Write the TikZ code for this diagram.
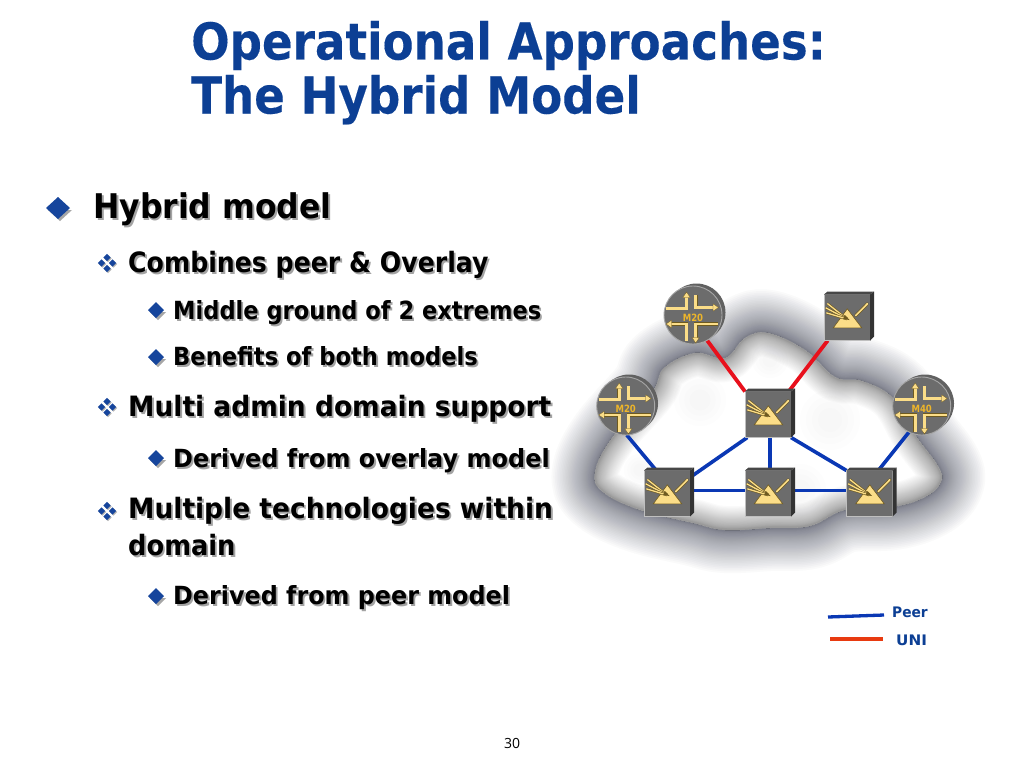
\documentclass[tikz,border=0pt]{standalone}
\usepackage{fontspec}
\setmainfont{DejaVu Sans}
\newfontfamily\bodybold{DejaVu Sans Bold}
\newfontfamily\titlebold[FakeStretch=0.89,FakeBold=0.2]{DejaVu Sans Bold}
\newfontfamily\pageno{Open Sans}
\usetikzlibrary{calc}
\definecolor{titleblue}{HTML}{0C3F94}
\definecolor{bulletblue}{HTML}{16459C}
\definecolor{peerblue}{HTML}{0A38B4}
\definecolor{unired}{HTML}{E8101C}
\definecolor{legendred}{HTML}{E83A10}
\definecolor{boxgray}{HTML}{6C6C6C}
\definecolor{gold}{HTML}{FBDD88}
\definecolor{golddark}{HTML}{6E5A20}
\definecolor{goldtext}{HTML}{EDB52A}
\definecolor{shadowcol}{HTML}{3E4254}
\pgfdeclarelayer{cloudlayer}
\pgfdeclarelayer{connlayer}
\pgfsetlayers{cloudlayer,connlayer,main}
\def\cloudshape{plot[smooth cycle,tension=.65] coordinates {(595,472) (612,438) (652,392) (664,368) (695,353) (725,358) (745,338) (768,333) (805,350) (835,377) (862,381) (893,398) (916,436) (938,466) (941,482) (925,497) (893,507) (845,510) (810,526) (770,528) (725,530) (693,523) (640,510) (603,492)}}
\newcommand{\shtext}[2]{\scalebox{#1}[1]{\rlap{\kern 2pt\raisebox{-2pt}{\textcolor{black!36}{#2}}}#2}}
\newcommand{\bigdiamond}[4]{%
  \fill[black!35] (#1+2,#2+2) -- +(#3,0) -- +(0,#4) -- +(-#3,0) -- +(0,-#4) -- cycle;
  \fill[bulletblue] (#1,#2) ++(#3,0) -- ++(-#3,#4) -- ++(-#3,-#4) -- ++(#3,-#4) -- cycle;}
\newcommand{\fourdiamond}[2]{%
  \foreach \dx/\dy in {0/-5.5,0/5.5,-5.5/0,5.5/0}{%
    \fill[black!30] ($(#1,#2)+(\dx+1,\dy+1)$) ++(3.6,0) -- ++(-3.6,3.6) -- ++(-3.6,-3.6) -- ++(3.6,-3.6) -- cycle;
    \fill[bulletblue] ($(#1,#2)+(\dx,\dy)$) ++(3.6,0) -- ++(-3.6,3.6) -- ++(-3.6,-3.6) -- ++(3.6,-3.6) -- cycle;}}
\newcommand{\swdeco}[1]{%
  \begin{scope}[shift={(#1.north west)}]
    \fill[black!72] (0,0) -- (3.5,-3) -- (50,-3) -- (46,0) -- cycle;
    \fill[black!80] (46,0) -- (50,-3) -- (50,42) -- (46,46) -- cycle;
    \fill[gold,draw=golddark,line width=.6pt] (23.3,14.3) -- (37.7,33.3) -- (9.3,33.3) -- cycle;
    \draw[golddark,line width=3pt,line cap=round] (31.7,21) -- (43.3,9.3);
    \draw[gold,line width=1.6pt,line cap=round] (31.7,21) -- (43.3,9.3);
    \foreach \a/\b in {3.3/9,1.7/13.3,2.3/18.3}{%
      \draw[golddark,line width=2.5pt] (\a,\b) -- (23,24.5);
      \draw[gold,line width=1.3pt] (\a,\b) -- (23,24.5);}
    \fill[golddark] (25.5,25.5) -- (19,24.5) -- (21,20.5) -- cycle;
  \end{scope}}
\newcommand{\rtpath}[1]{%
  \begin{scope}[shift={(#1.center)}]
    \foreach \c/\w in {golddark/3.6pt,gold/2.7pt}{%
      \draw[\c,line width=\w,line join=miter] (-27,-6.5) -- (-6.5,-6.5) -- (-6.5,-18);
      \draw[\c,line width=\w] (2.7,-20) -- (2.7,-7.5) -- (21,-7.5);
      \draw[\c,line width=\w] (-23,9) -- (-6.5,9) -- (-6.5,26);
      \draw[\c,line width=\w] (25,9) -- (2.7,9) -- (2.7,24);}
    \fill[gold,draw=golddark,line width=.3pt] (-6.5,-23) -- (-2.8,-17.5) -- (-10.2,-17.5) -- cycle;
    \fill[gold,draw=golddark,line width=.3pt] (25.5,-7.5) -- (20,-11.2) -- (20,-3.8) -- cycle;
    \fill[gold,draw=golddark,line width=.3pt] (-27,9) -- (-21.5,5.3) -- (-21.5,12.7) -- cycle;
    \fill[gold,draw=golddark,line width=.3pt] (2.7,28) -- (-1,22.5) -- (6.4,22.5) -- cycle;
  \end{scope}}
\tikzset{
  x=1pt,y=-1pt,
  swbox/.style={rectangle,fill=boxgray,draw=black!25,line width=.5pt,minimum size=46pt,inner sep=0pt,outer sep=0pt},
  rtbox/.style={circle,fill=boxgray,draw=black!35,line width=.9pt,minimum size=58pt,inner sep=0pt,outer sep=0pt},
  rtlabel/.style={inner sep=0pt,text=goldtext,font=\bodybold\fontsize{10}{11}\selectfont},
  peerline/.style={peerblue,line width=3.6pt},
  uniline/.style={unired,line width=3.8pt},
  title/.style={anchor=base west,inner sep=0pt,text=titleblue,font=\titlebold\fontsize{50.8}{54}\selectfont},
  lone/.style={anchor=base west,inner sep=0pt,font=\bodybold\fontsize{34}{37}\selectfont},
  ltwo/.style={anchor=base west,inner sep=0pt,font=\bodybold\fontsize{28}{31}\selectfont},
  lthree/.style={anchor=base west,inner sep=0pt,font=\bodybold\fontsize{25}{28}\selectfont},
  legendlabel/.style={anchor=base west,inner sep=0pt,text=titleblue,font=\bodybold\fontsize{14.5}{16}\selectfont},
}
\begin{document}
\begin{tikzpicture}
\useasboundingbox (0,0) rectangle (1024,768);

% title
\node[title] (t1) at (191,59.5) {Operational Approaches:};
\node[title] (t2) at (191,113.5) {The Hybrid Model};

% bullets
\bigdiamond{58}{208}{12}{11}
\bigdiamond{156}{310}{8}{8}
\bigdiamond{156}{357}{8}{8}
\bigdiamond{156}{458}{8}{8}
\bigdiamond{156}{596}{8}{8}
\fourdiamond{107}{263}
\fourdiamond{107}{407}
\fourdiamond{107}{511}

% text
\node[lone] (a1) at (93,218) {\shtext{.926}{Hybrid model}};
\node[ltwo] (b1) at (128,272) {\shtext{.90}{Combines peer \& Overlay}};
\node[lthree] (c1) at (173,319) {\shtext{.902}{Middle ground of 2 extremes}};
\node[lthree] (c2) at (173,365) {\shtext{.905}{Benefits of both models}};
\node[ltwo] (b2) at (128,416) {\shtext{.946}{Multi admin domain support}};
\node[lthree] (c3) at (173,467) {\shtext{.959}{Derived from overlay model}};
\node[ltwo] (b3) at (128,518) {\shtext{.946}{Multiple technologies within}};
\node[ltwo] (b4) at (128,555) {\shtext{.918}{domain}};
\node[lthree] (c4) at (173,604) {\shtext{.954}{Derived from peer model}};

% cloud
\begin{pgfonlayer}{cloudlayer}
  \fill[white] (0,0) rectangle (1024,768);
  \foreach \k in {40,39,...,1}{%
    \pgfmathsetmacro{\w}{2+84*(\k/40)^1.7}
    \draw[shadowcol,line width=\w pt,line join=round,opacity=.022] \cloudshape;}
  \begin{scope}
    \clip \cloudshape;
    \fill[white] (560,300) rectangle (980,560);
    \foreach \k in {30,29,...,1}{%
      \pgfmathsetmacro{\w}{2+46*(\k/30)^1.6}
      \draw[black!70,line width=\w pt,line join=round,opacity=.022] \cloudshape;}
    \foreach \cx/\cy/\r in {700/400/26,830/420/30,640/470/16,800/490/26,770/360/18}{%
      \foreach \k in {1,.8,.6,.4}{%
        \fill[blue!25!black!40,opacity=.018] (\cx,\cy) circle[radius=\k*\r];}}
  \end{scope}
\end{pgfonlayer}

% routers, back discs first
\fill[black!62] (696.5,312.5) circle[radius=29];
\fill[black!62] (629,403.5) circle[radius=29];
\fill[black!62] (925,403.5) circle[radius=29];
\node[rtbox] (rt) at (693,315) {};
\node[rtbox] (rl) at (625.7,406) {};
\node[rtbox] (rr) at (921.7,406) {};
\rtpath{rt}
\rtpath{rl}
\rtpath{rr}
\node[rtlabel] (rtt) at ($(rt.center)+(0,2.5)$) {\scalebox{.85}[1]{M20}};
\node[rtlabel] (rlt) at ($(rl.center)+(0,2.5)$) {\scalebox{.85}[1]{M20}};
\node[rtlabel] (rrt) at ($(rr.center)+(0,2.5)$) {\scalebox{.85}[1]{M40}};

% switches
\node[swbox] (tr) at (847,317.5) {};
\node[swbox] (core) at (768,414.5) {};
\node[swbox] (bl) at (667,493.5) {};
\node[swbox] (bm) at (768,493.5) {};
\node[swbox] (br) at (869.5,493.5) {};
\swdeco{tr}
\swdeco{core}
\swdeco{bl}
\swdeco{bm}
\swdeco{br}

% connectors
\begin{pgfonlayer}{connlayer}
  \draw[uniline] (rt.-61) -- (core.north west);
  \draw[uniline] (tr.-130) -- (core.48);
  \draw[peerline] (rl.-88) -- (bl.115);
  \draw[peerline] (bl.35) -- (core.-132);
  \draw[peerline] (core.-85) -- (bm.85);
  \draw[peerline] (core.south east) -- (br.north west);
  \draw[peerline] (bl.7) -- (bm.173);
  \draw[peerline] (bm.7) -- (br.173);
  \draw[peerline] (rr.-116) -- (br.69);
\end{pgfonlayer}

% legend
\coordinate (pa) at (828,617);
\coordinate (pb) at (884,615);
\coordinate (ua) at (830,639);
\coordinate (ub) at (883,639);
\draw[peerline,line width=3.3pt] (pa) -- (pb);
\draw[legendred,line width=3.3pt] (ua) -- (ub);
\node[legendlabel] (lp) at (892,617) {\scalebox{.95}[1]{Peer}};
\node[legendlabel] (lu) at (896,645) {\scalebox{1.05}[1]{UNI}};

% page number
\node[anchor=base,inner sep=0pt,font=\pageno\fontsize{14}{16}\selectfont] (pg) at (512,748) {30};
\end{tikzpicture}
\end{document}
